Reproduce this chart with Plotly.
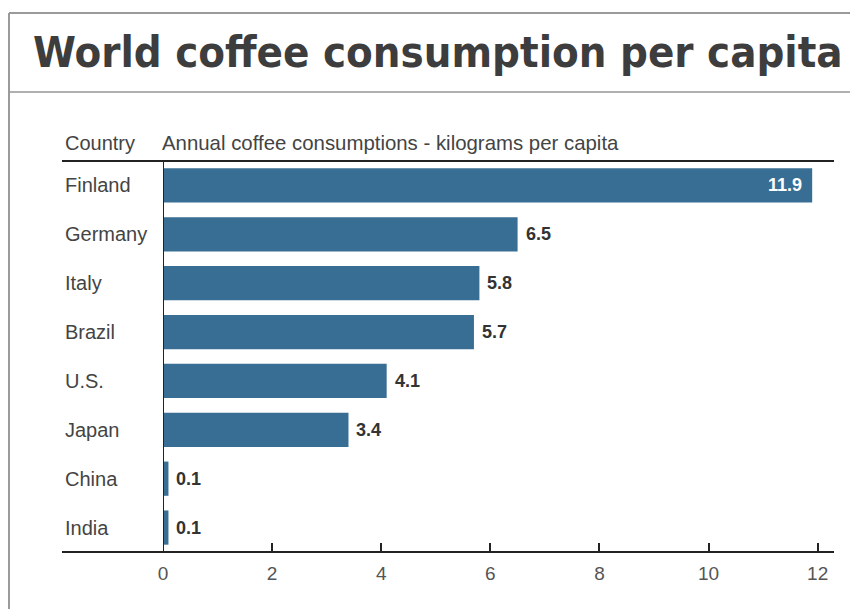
import plotly.graph_objects as go

countries = ["Finland", "Germany", "Italy", "Brazil", "U.S.", "Japan", "China", "India"]
values = [11.9, 6.5, 5.8, 5.7, 4.1, 3.4, 0.1, 0.1]
x_ticks = [0, 2, 4, 6, 8, 10, 12]
title_text = "World coffee consumption per capita"
col_header = "Country"
val_header = "Annual coffee consumptions - kilograms per capita"

# page body has an 8px margin; work in reference pixel coords and shift
O = 8
W, H = 850, 601
L, R, T, B = 155, 24, 153, 57
PW = W - L - R
PH = H - T - B

def px(x):
    return (x - O - L) / PW

def py(y):
    return (H - B - (y - O)) / PH

BAR = "#386e94"

fig = go.Figure(go.Bar(
    x=values, y=countries, orientation="h",
    marker=dict(color=BAR, line=dict(width=0)),
    width=0.7,
    hoverinfo="x+y",
))

fig.update_layout(
    width=W, height=H,
    margin=dict(l=L, r=R, t=T, b=B),
    paper_bgcolor="white", plot_bgcolor="white",
    showlegend=False,
    xaxis=dict(
        range=[0, 12.3], tickvals=x_ticks, ticktext=[str(t) for t in x_ticks],
        showgrid=False, zeroline=False, showline=False,
        ticks="inside", ticklen=9, tickwidth=2, tickcolor="#222222",
        tickfont=dict(family="Arial", size=19, color="#555555"),
        ticklabelstandoff=8,
    ),
    yaxis=dict(
        categoryorder="array", categoryarray=countries,
        autorange="reversed", showticklabels=False,
        showgrid=False, zeroline=False, showline=False, ticks="",
    ),
)

shapes = [
    dict(type="line", xref="paper", yref="paper", x0=px(9), x1=px(870), y0=py(13), y1=py(13),
         line=dict(color="#9a9a9a", width=2)),
    dict(type="line", xref="paper", yref="paper", x0=px(9), x1=px(9), y0=py(13), y1=py(620),
         line=dict(color="#9a9a9a", width=2)),
    dict(type="line", xref="paper", yref="paper", x0=px(10), x1=px(870), y0=py(92), y1=py(92),
         line=dict(color="#b0b0b0", width=2)),
    dict(type="line", xref="paper", yref="paper", x0=px(62), x1=px(834), y0=py(161), y1=py(161),
         line=dict(color="#222222", width=2)),
    dict(type="line", xref="paper", yref="paper", x0=px(62), x1=px(834), y0=py(552), y1=py(552),
         line=dict(color="#222222", width=2)),
    dict(type="line", xref="x", yref="paper", x0=0, x1=0, y0=0, y1=1,
         line=dict(color="#222222", width=2)),
]
fig.update_layout(shapes=shapes)

annotations = [
    dict(text=title_text, xref="paper", yref="paper", x=px(31), y=py(52.5),
         xanchor="left", yanchor="middle", showarrow=False,
         font=dict(family="DejaVu Sans Condensed", size=43.3, color="#3d3d3d", weight="bold")),
    dict(text=col_header, xref="paper", yref="paper", x=px(63), y=py(143),
         xanchor="left", yanchor="middle", showarrow=False,
         font=dict(family="Arial", size=20, color="#444444")),
    dict(text=val_header, xref="paper", yref="paper", x=px(160), y=py(143),
         xanchor="left", yanchor="middle", showarrow=False,
         font=dict(family="Arial", size=20.4, color="#444444")),
]
for c in countries:
    annotations.append(dict(text=c, xref="paper", yref="y", x=px(63), y=c,
                            xanchor="left", yanchor="middle", showarrow=False,
                            font=dict(family="Arial", size=20, color="#444444")))
for c, v in zip(countries, values):
    inside = v > 10
    annotations.append(dict(
        text=f"{v:.1f}", xref="x", yref="y", x=v, y=c,
        xanchor="right" if inside else "left", yanchor="middle",
        xshift=-8 if inside else 6, showarrow=False,
        font=dict(family="Arial", size=18, weight="bold",
                  color="white" if inside else "#333333"),
    ))
fig.update_layout(annotations=annotations)

fig.write_html("out.html")
